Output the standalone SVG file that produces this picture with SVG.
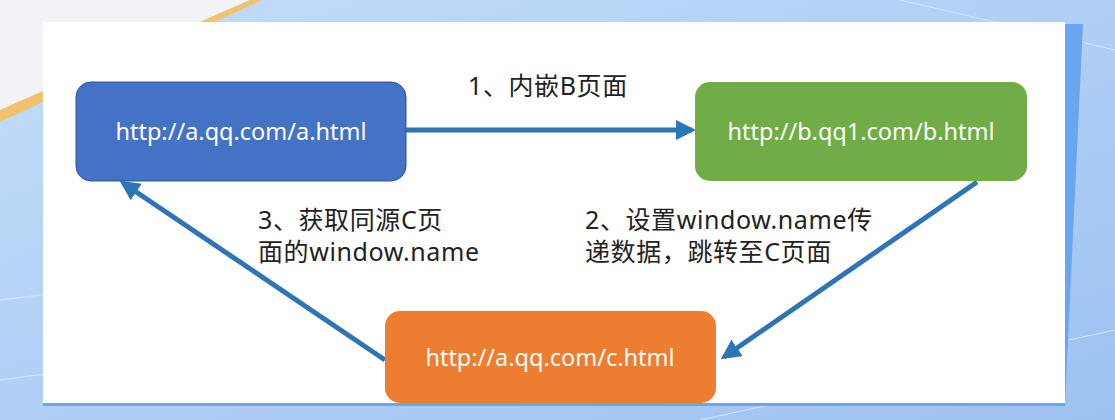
<svg xmlns="http://www.w3.org/2000/svg" width="1115" height="420" viewBox="0 0 1115 420">
<defs>
<linearGradient id="bg" x1="0" y1="0" x2="1" y2="1"><stop offset="0" stop-color="#c4dcf8"/><stop offset="1" stop-color="#9cc2f2"/></linearGradient>
<marker id="ah" viewBox="0 0 10 10" refX="8" refY="5" markerWidth="4" markerHeight="4" orient="auto"><path d="M0,0 L10,5 L0,10 z" fill="#2e75b6"/></marker>
</defs>
<style>
.node text{font-family:"Noto Sans","Liberation Sans",sans-serif;font-size:23.5px;fill:#fff;text-anchor:middle}
.lbl{font-family:"Noto Sans","Noto Sans CJK SC",sans-serif;font-size:25px;letter-spacing:0.6px;fill:#222}
.edge{stroke:#2e75b6;stroke-width:5;fill:none;marker-end:url(#ah)}
</style>
<rect width="1115" height="420" fill="url(#bg)"/>
<g stroke="#d6e6fa" stroke-width="1" fill="none"><path d="M0,300 L400,250 M700,420 L1115,330 M900,0 L1115,50 M0,380 L300,340"/></g>
<polygon points="0,0 250,0 0,110" fill="#f1f3f6"/>
<polygon points="0,110 250,0 262,0 0,122" fill="#f2c26a"/>
<polygon points="1065,24 1083,24 1065,403" fill="#6aa6f0"/>
<rect x="43" y="400" width="1022" height="6" fill="#6aa6f0"/>
<rect x="43" y="22" width="1022" height="381" fill="#fff"/>
<g id="connectors">
<line class="edge" x1="406" y1="130" x2="692" y2="130"/>
<line class="edge" x1="977" y1="182" x2="724" y2="357"/>
<line class="edge" x1="385" y1="360" x2="123" y2="183"/>
</g>
<g id="nodeA" class="node"><rect x="76" y="82" width="330" height="99" rx="15" fill="#4472c4" stroke="#2f5597"/><text x="241" y="140">http://a.qq.com/a.html</text></g>
<g id="nodeB" class="node"><rect x="695" y="82" width="332" height="99" rx="15" fill="#70ad47"/><text x="861" y="140">http://b.qq1.com/b.html</text></g>
<g id="nodeC" class="node"><rect x="385" y="311" width="331" height="92" rx="15" fill="#ed7d31"/><text x="550" y="366">http://a.qq.com/c.html</text></g>
<g id="labels">
<text class="lbl" x="468" y="95">1、内嵌B页面</text>
<text class="lbl" x="585" y="229">2、设置window.name传</text>
<text class="lbl" x="585" y="261">递数据，跳转至C页面</text>
<text class="lbl" x="258" y="229">3、获取同源C页</text>
<text class="lbl" x="258" y="261">面的window.name</text>
</g>
</svg>
